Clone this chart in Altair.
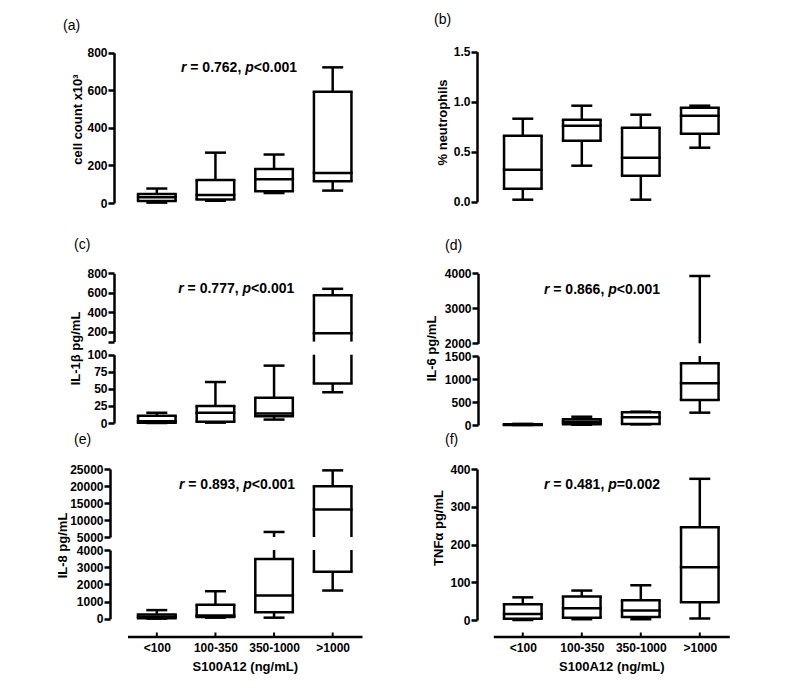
import altair as alt
import pandas as pd

categories = ["<100", "100-350", "350-1000", ">1000"]

# (a) cell count x10^3 : min, q1, median, q3, max per group
a_min = [2, 12, 53, 66]
a_q1 = [10, 18, 62, 116]
a_med = [30, 43, 126, 160]
a_q3 = [48, 123, 181, 592]
a_max = [77, 268, 258, 722]

# (b) % neutrophils
b_min = [0.02, 0.36, 0.02, 0.54]
b_q1 = [0.13, 0.61, 0.26, 0.68]
b_med = [0.32, 0.76, 0.44, 0.86]
b_q3 = [0.66, 0.82, 0.74, 0.94]
b_max = [0.83, 0.96, 0.87, 0.96]

# (c) IL-1beta pg/mL
c_min = [0, 0.5, 5, 45]
c_q1 = [0.5, 2, 10, 58]
c_med = [2.5, 15, 14, 185]
c_q3 = [10.5, 25, 37, 575]
c_max = [15, 60, 84, 641]

# (d) IL-6 pg/mL
d_min = [0, 5, 14, 268]
d_q1 = [2, 15, 22, 543]
d_med = [5, 70, 167, 906]
d_q3 = [15, 123, 275, 1341]
d_max = [25, 180, 290, 3923]

# (e) IL-8 pg/mL
e_min = [5, 60, 60, 1640]
e_q1 = [30, 100, 370, 2730]
e_med = [110, 180, 1350, 13100]
e_q3 = [250, 810, 3470, 19900]
e_max = [500, 1600, 6480, 24600]

# (f) TNF-alpha pg/mL
f_min = [0, 2, 2, 4]
f_q1 = [3, 6, 8, 47]
f_med = [16, 31, 25, 140]
f_q3 = [42, 62, 52, 246]
f_max = [60, 78, 92, 374]

panel_labels = ["(a)", "(b)", "(c)", "(d)", "(e)", "(f)"]
r_values = ["0.762", "0.777", "0.866", "0.893", "0.481"]
p_texts = ["<0.001", "<0.001", "<0.001", "<0.001", "=0.002"]
x_title = "S100A12 (ng/mL)"

FONT = "Liberation Sans"
SW = 2.5
BOXW = 40
CAPW = 21
HALF = (BOXW - SW) / 2
W, H = 771, 675
LEFT_X = [119.5, 354.0]
RIGHT_X = [485.3, 721.3]


def xscale(rng):
    return alt.Scale(type="point", domain=categories, range=rng, padding=0.5)


def yaxis(values, offset, title="", tx=0, ty=0, hide=None, fmt="d"):
    kw = dict(orient="left", offset=offset, values=values, format=fmt, grid=False,
              domainColor="black", domainWidth=SW, tickColor="black", tickWidth=SW,
              tickSize=6, labelFont=FONT, labelFontSize=12, labelFontWeight="bold",
              labelColor="black", labelPadding=1, labelOverlap=False, title=title)
    if title:
        kw.update(titleX=tx, titleY=ty, titleAngle=270, titleAlign="center",
                  titleBaseline="middle", titleFont=FONT, titleFontSize=13,
                  titleFontWeight="bold", titleColor="black")
    if hide is not None:
        kw["labelExpr"] = "datum.value == %s ? '' : datum.label" % hide
    return alt.Axis(**kw)


def xaxis_bottom(offset):
    return alt.Axis(orient="bottom", offset=offset, ticks=False, domainColor="black",
                    domainWidth=SW, labelFont=FONT, labelFontSize=12,
                    labelFontWeight="bold", labelColor="black", labelPadding=6,
                    labelAngle=0, title=x_title, titleFont=FONT, titleFontSize=13,
                    titleFontWeight="bold", titleColor="black", titleY=34,
                    titleBaseline="alphabetic", grid=False)


def box_panel(stats, lo, hi, ysc, yax, xsc, xax, xticks=False):
    mins, q1s, meds, q3s, maxs = stats
    sides, whisk, bt, caps = [], [], [], []
    for c, mn, a, m, b, mx in zip(categories, mins, q1s, meds, q3s, maxs):
        s0, s1 = max(a, lo), min(b, hi)
        if s1 > s0:
            sides.append({"cat": c, "lo": s0, "hi": s1})
        for u, v in ((mn, a), (b, mx)):
            u0, v0 = max(u, lo), min(v, hi)
            if v0 > u0:
                whisk.append({"cat": c, "lo": u0, "hi": v0})
        for v in (a, m, b):
            if lo <= v <= hi:
                bt.append({"cat": c, "v": v})
        for v in (mn, mx):
            if lo <= v <= hi:
                caps.append({"cat": c, "v": v})
    X = alt.X("cat:N", scale=xsc, axis=xax)
    sdf = pd.DataFrame(sides, columns=["cat", "lo", "hi"])
    wdf = pd.DataFrame(whisk, columns=["cat", "lo", "hi"])
    bdf = pd.DataFrame(bt, columns=["cat", "v"])
    cdf = pd.DataFrame(caps, columns=["cat", "v"])
    layers = []
    for xo in (-HALF, HALF):
        layers.append(alt.Chart(sdf).mark_rule(strokeWidth=SW, color="black", xOffset=xo)
                      .encode(x=X, y=alt.Y("lo:Q", scale=ysc, axis=yax), y2=alt.Y2("hi")))
    layers.append(alt.Chart(wdf).mark_rule(strokeWidth=SW, color="black")
                  .encode(x=X, y=alt.Y("lo:Q", scale=ysc, axis=yax), y2=alt.Y2("hi")))
    layers.append(alt.Chart(bdf).mark_tick(size=BOXW, thickness=SW, color="black", opacity=1)
                  .encode(x=X, y=alt.Y("v:Q", scale=ysc, axis=yax)))
    layers.append(alt.Chart(cdf).mark_tick(size=CAPW, thickness=SW, color="black", opacity=1)
                  .encode(x=X, y=alt.Y("v:Q", scale=ysc, axis=yax)))
    if xticks:
        layers.append(alt.Chart(pd.DataFrame({"cat": categories})).mark_rule(strokeWidth=2, color="black")
                      .encode(x=X, y=alt.value(624.5), y2=alt.value(629)))
    return alt.layer(*layers)


def text_layer(txt, x, y, size, weight="bold", style="normal"):
    return (alt.Chart(pd.DataFrame({"t": [txt]}))
            .mark_text(font=FONT, fontSize=size, fontWeight=weight, fontStyle=style,
                       align="left", baseline="alphabetic", color="black")
            .encode(x=alt.value(x), y=alt.value(y), text="t:N"))


def annot(i, x0, yb):
    return [
        text_layer("r", x0, yb, 14, style="italic"),
        text_layer("= " + r_values[i] + ",", x0 + 9.3, yb, 14),
        text_layer("p", x0 + 64.2, yb, 14, style="italic"),
        text_layer(p_texts[i], x0 + 72.8, yb, 14),
    ]


def ys(d, r):
    return alt.Scale(domain=d, range=r, nice=False, zero=False)


XOFF = 628.5 - H

panels = [
    box_panel((a_min, a_q1, a_med, a_q3, a_max), 0, 800, ys([0, 800], [195, 44.7]),
              yaxis([0, 200, 400, 600, 800], -106, "cell count x10³", -36.5, 111),
              xscale(LEFT_X), None),
    box_panel((b_min, b_q1, b_med, b_q3, b_max), 0, 1.5, ys([0, 1.5], [193.7, 43.7]),
              yaxis([0, 0.5, 1.0, 1.5], -469, "% neutrophils", -35, 114, fmt=".1f"),
              xscale(RIGHT_X), None),
    box_panel((c_min, c_q1, c_med, c_q3, c_max), 100, 800, ys([100, 800], [333.6, 265.3]),
              yaxis([100, 200, 400, 600, 800], -106, hide=100), xscale(LEFT_X), None),
    box_panel((c_min, c_q1, c_med, c_q3, c_max), 0, 100, ys([0, 100], [415, 346.7]),
              yaxis([0, 25, 50, 75, 100], -106, "IL-1β pg/mL", -39, 340), xscale(LEFT_X), None),
    box_panel((d_min, d_q1, d_med, d_q3, d_max), 2000, 4000, ys([2000, 4000], [335.3, 265.3]),
              yaxis([2000, 3000, 4000], -470), xscale(RIGHT_X), None),
    box_panel((d_min, d_q1, d_med, d_q3, d_max), 0, 1500, ys([0, 1500], [417, 348]),
              yaxis([0, 500, 1000, 1500], -470, "IL-6 pg/mL", -46.5, 340), xscale(RIGHT_X), None),
    box_panel((e_min, e_q1, e_med, e_q3, e_max), 5000, 25000, ys([5000, 25000], [529, 461]),
              yaxis([5000, 10000, 15000, 20000, 25000], -102), xscale(LEFT_X), None),
    box_panel((e_min, e_q1, e_med, e_q3, e_max), 0, 4000, ys([0, 4000], [610.7, 542]),
              yaxis([0, 1000, 2000, 3000, 4000], -102, "IL-8 pg/mL", -48, 537),
              xscale(LEFT_X), xaxis_bottom(XOFF), xticks=True),
    box_panel((f_min, f_q1, f_med, f_q3, f_max), 0, 400, ys([0, 400], [612, 461]),
              yaxis([0, 100, 200, 300, 400], -469, "TNFα pg/mL", -38.5, 519.5),
              xscale(RIGHT_X), xaxis_bottom(XOFF), xticks=True),
]

texts = []
label_pos = [(55, 22.4), (426, 15.8), (66, 240.8), (437, 242.4), (66, 435.8), (437, 435.8)]
for lab, (lx, ly) in zip(panel_labels, label_pos):
    texts.append(text_layer(lab, lx, ly, 14, weight="normal"))
annot_pos = [(173, 64), (170.3, 284.5), (536, 286), (171, 480.5), (536, 481)]
for i, (ax_, ay_) in enumerate(annot_pos):
    texts += annot(i, ax_, ay_)

chart = (alt.layer(*panels, *texts)
         .resolve_scale(x="independent", y="independent")
         .properties(width=W, height=H, padding=0, autosize=alt.AutoSizeParams(type="none"))
         .configure_view(strokeWidth=0))

chart.save("out.html", embed_options={"renderer": "svg", "actions": False})
